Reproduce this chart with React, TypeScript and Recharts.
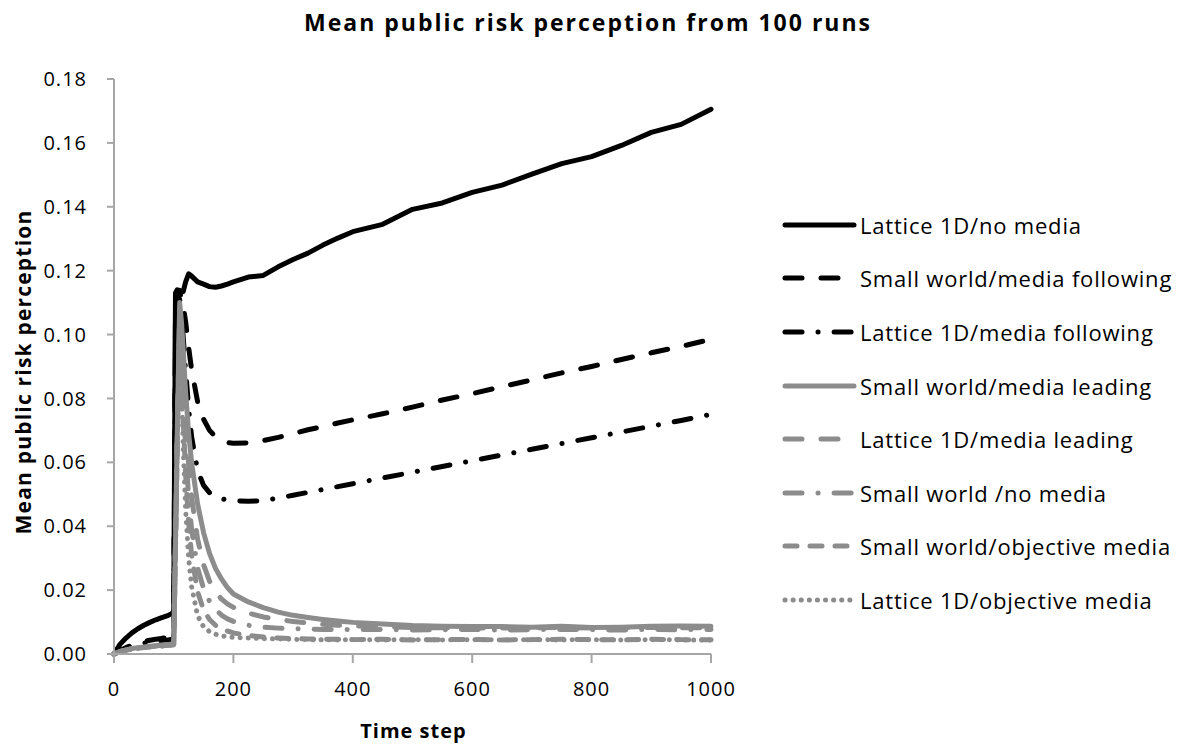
import { LineChart, Line, XAxis, YAxis } from 'recharts'

const STEPS = [0, 10, 20, 30, 40, 50, 60, 70, 80, 90, 98, 100, 103, 106, 110, 113, 116, 120, 125, 130, 140, 150, 160, 170, 180, 190, 200, 225, 250, 275, 300, 325, 350, 375, 400, 450, 500, 550, 600, 650, 700, 750, 800, 850, 900, 950, 1000]

const LATTICE_NO_MEDIA = [0, 0.003, 0.005, 0.0066, 0.0079, 0.009, 0.0099, 0.0107, 0.0114, 0.012, 0.0128, 0.0135, 0.113, 0.114, 0.1138, 0.1132, 0.1135, 0.1165, 0.119, 0.1183, 0.1165, 0.1158, 0.115, 0.1148, 0.1152, 0.1158, 0.1165, 0.118, 0.1185, 0.1212, 0.1235, 0.1255, 0.128, 0.1302, 0.1322, 0.1345, 0.1392, 0.1412, 0.1445, 0.1468, 0.1502, 0.1535, 0.1557, 0.1592, 0.1633, 0.1658, 0.1705]
const SW_MEDIA_FOLLOWING = [0, 0.001, 0.002, 0.0028, 0.0034, 0.0039, 0.0043, 0.0046, 0.0049, 0.0051, 0.0053, 0.0055, 0.108, 0.1135, 0.113, 0.1115, 0.109, 0.104, 0.096, 0.089, 0.079, 0.0735, 0.07, 0.068, 0.0668, 0.0662, 0.066, 0.0661, 0.0668, 0.0678, 0.069, 0.0702, 0.0712, 0.0723, 0.0733, 0.0752, 0.0773, 0.0795, 0.0815, 0.0837, 0.0858, 0.088, 0.09, 0.0922, 0.0943, 0.0963, 0.0985]
const LATTICE_MEDIA_FOLLOWING = [0, 0.001, 0.0018, 0.0025, 0.003, 0.0034, 0.0037, 0.004, 0.0042, 0.0044, 0.0046, 0.0048, 0.105, 0.112, 0.111, 0.106, 0.099, 0.089, 0.077, 0.068, 0.0575, 0.0528, 0.0505, 0.0493, 0.0486, 0.0482, 0.048, 0.0478, 0.048, 0.0488, 0.0497, 0.0506, 0.0515, 0.0524, 0.0533, 0.0551, 0.0569, 0.0587, 0.0605, 0.0623, 0.0641, 0.0659, 0.0677, 0.0695, 0.0713, 0.0731, 0.075]
const SW_MEDIA_LEADING = [0, 0.0008, 0.0013, 0.0017, 0.002, 0.0022, 0.0024, 0.0026, 0.0028, 0.003, 0.0031, 0.0032, 0.035, 0.07, 0.11, 0.104, 0.095, 0.082, 0.069, 0.06, 0.047, 0.038, 0.0315, 0.0268, 0.0235, 0.0208, 0.0188, 0.0163, 0.0145, 0.0131, 0.0121, 0.0114, 0.0108, 0.0103, 0.0099, 0.0094, 0.0089, 0.0087, 0.0086, 0.0086, 0.0084, 0.0087, 0.0083, 0.0084, 0.0087, 0.0088, 0.0087]
const LATTICE_MEDIA_LEADING = [0, 0.0007, 0.0012, 0.0016, 0.0019, 0.0021, 0.0023, 0.0025, 0.0027, 0.0028, 0.0029, 0.003, 0.034, 0.068, 0.107, 0.099, 0.088, 0.073, 0.059, 0.049, 0.036, 0.028, 0.0228, 0.0195, 0.0172, 0.0157, 0.0146, 0.0128, 0.0116, 0.0108, 0.0102, 0.0097, 0.0093, 0.009, 0.0088, 0.0085, 0.0083, 0.0082, 0.0082, 0.0081, 0.0082, 0.0083, 0.0081, 0.0082, 0.0083, 0.0082, 0.0082]
const SW_NO_MEDIA = [0, 0.0008, 0.0012, 0.0016, 0.0019, 0.0021, 0.0023, 0.0025, 0.0026, 0.0028, 0.0029, 0.003, 0.034, 0.067, 0.105, 0.095, 0.081, 0.064, 0.049, 0.039, 0.027, 0.0205, 0.0165, 0.014, 0.0122, 0.011, 0.0102, 0.009, 0.0084, 0.0081, 0.0079, 0.0078, 0.0077, 0.0077, 0.0076, 0.0077, 0.0075, 0.0076, 0.0077, 0.0075, 0.0076, 0.0077, 0.0076, 0.0075, 0.0077, 0.0076, 0.0077]
const SW_OBJECTIVE = [0, 0.0007, 0.0011, 0.0015, 0.0018, 0.002, 0.0022, 0.0024, 0.0025, 0.0027, 0.0028, 0.0029, 0.033, 0.066, 0.103, 0.09, 0.073, 0.056, 0.041, 0.031, 0.0195, 0.0138, 0.0108, 0.009, 0.0079, 0.0072, 0.0066, 0.0058, 0.0053, 0.005, 0.0048, 0.0047, 0.0046, 0.0046, 0.0045, 0.0046, 0.0044, 0.0045, 0.0046, 0.0044, 0.0045, 0.0046, 0.0045, 0.0044, 0.0046, 0.0045, 0.0045]
const LATTICE_OBJECTIVE = [0, 0.0007, 0.0011, 0.0015, 0.0018, 0.002, 0.0022, 0.0024, 0.0025, 0.0027, 0.0028, 0.0029, 0.032, 0.064, 0.1, 0.084, 0.064, 0.045, 0.03, 0.021, 0.012, 0.0085, 0.007, 0.0062, 0.0057, 0.0054, 0.0052, 0.005, 0.0048, 0.0047, 0.0046, 0.0045, 0.0045, 0.0044, 0.0045, 0.0044, 0.0045, 0.0044, 0.0045, 0.0044, 0.0045, 0.0044, 0.0045, 0.0044, 0.0045, 0.0044, 0.0044]

const Y_TICKS = [0, 0.02, 0.04, 0.06, 0.08, 0.1, 0.12, 0.14, 0.16, 0.18]
const X_TICKS = [0, 200, 400, 600, 800, 1000]

const BLACK = '#000000'
const GRAY = '#8c8c8c'
const FONT = '"Open Sans", sans-serif'

const SERIES = [
  { key: 'l1', name: 'Lattice 1D/no media', values: LATTICE_NO_MEDIA, color: BLACK, dash: undefined },
  { key: 's1', name: 'Small world/media following', values: SW_MEDIA_FOLLOWING, color: BLACK, dash: '17 19' },
  { key: 'l2', name: 'Lattice 1D/media following', values: LATTICE_MEDIA_FOLLOWING, color: BLACK, dash: '17 16 0.1 16' },
  { key: 's2', name: 'Small world/media leading', values: SW_MEDIA_LEADING, color: GRAY, dash: undefined },
  { key: 'l3', name: 'Lattice 1D/media leading', values: LATTICE_MEDIA_LEADING, color: GRAY, dash: '17 19' },
  { key: 's3', name: 'Small world /no media', values: SW_NO_MEDIA, color: GRAY, dash: '17 16 0.1 16' },
  { key: 's4', name: 'Small world/objective media', values: SW_OBJECTIVE, color: GRAY, dash: '12 13' },
  { key: 'l4', name: 'Lattice 1D/objective media', values: LATTICE_OBJECTIVE, color: GRAY, dash: '0.1 8' },
]

const rows = STEPS.map((t, i) => {
  const row: Record<string, number> = { t }
  SERIES.forEach((s) => { row[s.key] = s.values[i] })
  return row
})

const LegendBox = () => (
  <div style={{ position: 'absolute', left: 782, top: 198, fontFamily: FONT, fontSize: 22, letterSpacing: 0.8, color: '#000' }}>
    {SERIES.map((s) => (
      <div key={s.key} style={{ display: 'flex', alignItems: 'center', height: 53.6 }}>
        <svg width={78} height={12} style={{ display: 'block' }}>
          <line x1={3} y1={6} x2={72} y2={6} stroke={s.color} strokeWidth={5} strokeLinecap="round" strokeDasharray={s.dash} />
        </svg>
        <span style={{ whiteSpace: 'nowrap' }}>{s.name}</span>
      </div>
    ))}
  </div>
)

export default function App() {
  return (
    <div style={{ position: 'absolute', left: 0, top: 0, width: 1182, height: 744, background: '#fff', fontFamily: FONT }}>
      <div style={{ position: 'absolute', left: 0, width: 1176, top: 6, textAlign: 'center', fontWeight: 700, fontSize: 23, letterSpacing: 2, lineHeight: 'normal' }}>
        Mean public risk perception from 100 runs
      </div>
      <LineChart width={1182} height={744} data={rows} margin={{ top: 79, right: 471, bottom: 50, left: 34 }}>
        <XAxis
          dataKey="t"
          type="number"
          domain={[0, 1000]}
          ticks={X_TICKS}
          height={40}
          stroke="#a6a6a6"
          strokeWidth={2}
          tickSize={9}
          tickMargin={19}
          tick={{ fontSize: 20, fill: '#000', letterSpacing: 1 }}
        />
        <YAxis
          type="number"
          domain={[0, 0.18]}
          ticks={Y_TICKS}
          width={80}
          stroke="#a6a6a6"
          strokeWidth={2}
          tickSize={7}
          tickMargin={20}
          tickFormatter={(v: number) => v.toFixed(2)}
          tick={{ fontSize: 20, fill: '#000', letterSpacing: 1 }}
        />
        {SERIES.map((s) => (
          <Line
            key={s.key}
            dataKey={s.key}
            name={s.name}
            type="linear"
            stroke={s.color}
            strokeWidth={5}
            strokeDasharray={s.dash}
            strokeLinecap="round"
            strokeLinejoin="round"
            dot={false}
            activeDot={false}
            isAnimationActive={false}
          />
        ))}
      </LineChart>
      <LegendBox />
      <div style={{ position: 'absolute', left: 0, width: 827, top: 717, textAlign: 'center', fontWeight: 700, fontSize: 20, letterSpacing: 1 }}>
        Time step
      </div>
      <div style={{ position: 'absolute', left: 23, top: 372, width: 0, height: 0 }}>
        <div style={{ position: 'absolute', left: 0, top: 0, transform: 'translate(-50%, -50%) rotate(-90deg)', whiteSpace: 'nowrap', fontWeight: 700, fontSize: 21, letterSpacing: 1.2 }}>
          Mean public risk perception
        </div>
      </div>
    </div>
  )
}
